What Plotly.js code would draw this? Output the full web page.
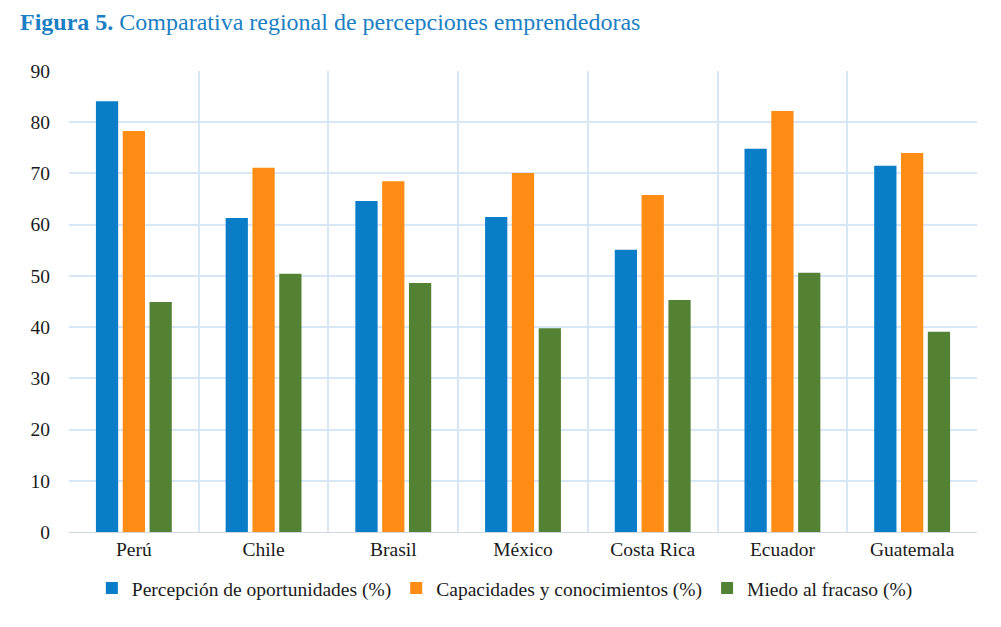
<!DOCTYPE html>
<html>
<head>
<meta charset="utf-8">
<script src="https://cdn.plot.ly/plotly-3.0.1.min.js"></script>
<style>
  html, body { margin: 0; padding: 0; background: white; }
  #chart { width: 1001px; height: 627px; }
</style>
</head>
<body>
<div id="chart"></div>
<script>
// valores
var paises = ["Perú", "Chile", "Brasil", "México", "Costa Rica", "Ecuador", "Guatemala"];
var oportunidades = [84.1, 61.3, 64.6, 61.5, 55.1, 74.8, 71.5];
var capacidades = [78.3, 71.1, 68.5, 70.1, 65.8, 82.2, 74.0];
var miedo = [44.9, 50.4, 48.6, 39.8, 45.3, 50.6, 39.1];

var serif = "Liberation Serif";

var data = [
  {
    x: paises, y: oportunidades, type: "bar",
    name: "Percepción de oportunidades (%)",
    marker: { color: "#0a7dc8" }
  },
  {
    x: paises, y: capacidades, type: "bar",
    name: "Capacidades y conocimientos (%)",
    marker: { color: "#ff8c14" }
  },
  {
    x: paises, y: miedo, type: "bar",
    name: "Miedo al fracaso (%)",
    marker: { color: "#548235" }
  }
];

var layout = {
  width: 1001,
  height: 627,
  margin: { t: 71, b: 95, l: 69, r: 24 },
  paper_bgcolor: "white",
  plot_bgcolor: "white",
  font: { family: serif, size: 19.5, color: "#1a1a1a" },
  title: {
    text: "<b>Figura 5.</b> Comparativa regional de percepciones emprendedoras",
    font: { family: serif, size: 24, color: "#1b7fc4" },
    x: 0.02, xanchor: "left", xref: "container",
    y: 0.965, yanchor: "middle"
  },
  barmode: "group",
  bargap: 0.38,
  bargroupgap: 0.17,
  showlegend: true,
  legend: {
    orientation: "h",
    x: 0.48, xanchor: "center",
    y: -0.08, yanchor: "top",
    font: { family: serif, size: 19.5 }
  },
  xaxis: {
    tickson: "boundaries",
    showgrid: true,
    gridcolor: "#d8e7f5",
    gridwidth: 1.5,
    showline: true,
    linecolor: "#cfd8e2",
    ticks: "outside",
    ticklen: 4,
    tickcolor: "rgba(0,0,0,0)",
    tickfont: { family: serif, size: 19.5 },
    fixedrange: true
  },
  yaxis: {
    range: [0, 90],
    dtick: 10,
    showgrid: true,
    gridcolor: "#d8e7f5",
    gridwidth: 1.5,
    zeroline: false,
    ticks: "outside",
    ticklen: 14,
    tickcolor: "rgba(0,0,0,0)",
    tickfont: { family: serif, size: 19.5 },
    fixedrange: true
  }
};

Plotly.newPlot("chart", data, layout, { displayModeBar: false });
</script>
</body>
</html>
